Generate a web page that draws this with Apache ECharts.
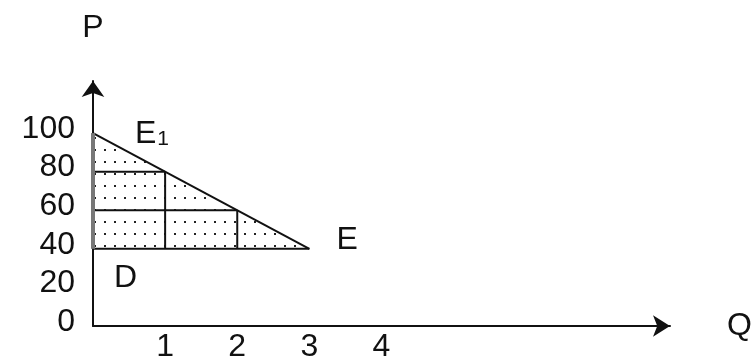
<!DOCTYPE html>
<html><head><meta charset="utf-8">
<script src="https://cdn.jsdelivr.net/npm/echarts@6/dist/echarts.min.js"></script>
<style>html,body{margin:0;padding:0;background:#fff}#c{width:755px;height:364px}</style>
</head><body><div id="c"></div>
<script>
// ---- data ----
const yTickLabels = [0, 20, 40, 60, 80, 100];
const xTickLabels = [1, 2, 3, 4];
const demandLine = [[0, 100], [3, 40]];
const leftEdge = [[0, 40], [0, 100]];
const row80 = [[0, 80], [1, 80]];
const row60 = [[0, 60], [2, 60]];
const row40 = [[0, 40], [3, 40]];
const col1 = [[1, 40], [1, 80]];
const col2 = [[2, 40], [2, 60]];
const notePoints = [[0, 100], [3, 40], [0.45, 25]];
const noteTexts = ['{e|E}{s|1}', 'E', 'D'];

// ---- styles ----
const FONT = "'Liberation Sans', Arial, sans-serif";
const INK = '#111';
const FS = 32;
const pc = document.createElement('canvas');
pc.width = 10; pc.height = 12;
const pctx = pc.getContext('2d');
pctx.fillStyle = '#fff'; pctx.fillRect(0, 0, 10, 12);
pctx.fillStyle = '#222'; pctx.fillRect(4, 5, 2, 2);

function seg(data, color, width, z) {
  return { type: 'line', data: data, symbol: 'none', silent: true, animation: false,
    lineStyle: { color: color, width: width }, z: z || 6 };
}

const chart = echarts.init(document.getElementById('c'), null, { renderer: 'canvas' });
chart.setOption({
  backgroundColor: '#fff',
  animation: false,
  grid: { left: 93, right: 85, top: 81, bottom: 38, containLabel: false },
  xAxis: {
    type: 'value', min: 0, max: 8, interval: 1,
    name: 'Q', nameLocation: 'end', nameGap: 57,
    nameTextStyle: { fontFamily: FONT, fontSize: FS, color: INK, padding: [0, 0, 18, 0] },
    axisLine: { show: true, lineStyle: { color: INK, width: 2 }, symbol: ['none', 'arrow'], symbolSize: [16, 17] },
    axisTick: { show: false },
    splitLine: { show: false },
    axisLabel: {
      margin: 5, fontFamily: FONT, fontSize: FS, color: INK,
      formatter: v => xTickLabels.includes(v) ? String(v) : ''
    }
  },
  yAxis: {
    type: 'value', min: 0, max: 127, interval: 20,
    name: 'P', nameLocation: 'end', nameGap: 37,
    nameTextStyle: { fontFamily: FONT, fontSize: FS, color: INK, align: 'center' },
    axisLine: { show: true, lineStyle: { color: INK, width: 2 }, symbol: ['none', 'arrow'], symbolSize: [17, 16] },
    axisTick: { show: false },
    splitLine: { show: false },
    axisLabel: {
      margin: 18, fontFamily: FONT, fontSize: FS, color: INK,
      verticalAlign: 'bottom', lineHeight: 8,
      formatter: v => yTickLabels.includes(v) ? String(v) : ''
    }
  },
  series: [
    { type: 'line', data: demandLine, symbol: 'none', silent: true, animation: false,
      lineStyle: { color: INK, width: 2 }, z: 4,
      areaStyle: { origin: 40, color: { image: pc, repeat: 'repeat' }, opacity: 1 } },
    seg(leftEdge, '#777', 4, 7),
    seg(row80, INK, 2), seg(row60, INK, 2), seg(row40, INK, 2),
    seg(col1, INK, 2), seg(col2, INK, 2),
    { type: 'scatter', symbolSize: 0, silent: true, animation: false, z: 8,
      itemStyle: { opacity: 1 },
      data: [
        { value: notePoints[0], label: { show: true, formatter: noteTexts[0], position: 'right', distance: 42, offset: [0, 1],
          fontFamily: FONT, color: INK,
          rich: { e: { fontFamily: FONT, fontSize: FS, color: INK, lineHeight: 32 },
                  s: { fontFamily: FONT, fontSize: 21, color: INK, verticalAlign: 'bottom', padding: [0, 0, 0, 1] } } } },
        { value: notePoints[1], label: { show: true, formatter: noteTexts[1], position: 'right', distance: 27, offset: [0, -9],
          fontFamily: FONT, fontSize: FS, color: INK } },
        { value: notePoints[2], label: { show: true, formatter: noteTexts[2], position: 'inside',
          fontFamily: FONT, fontSize: FS, color: INK } }
      ] }
  ]
});
</script>
</body></html>
